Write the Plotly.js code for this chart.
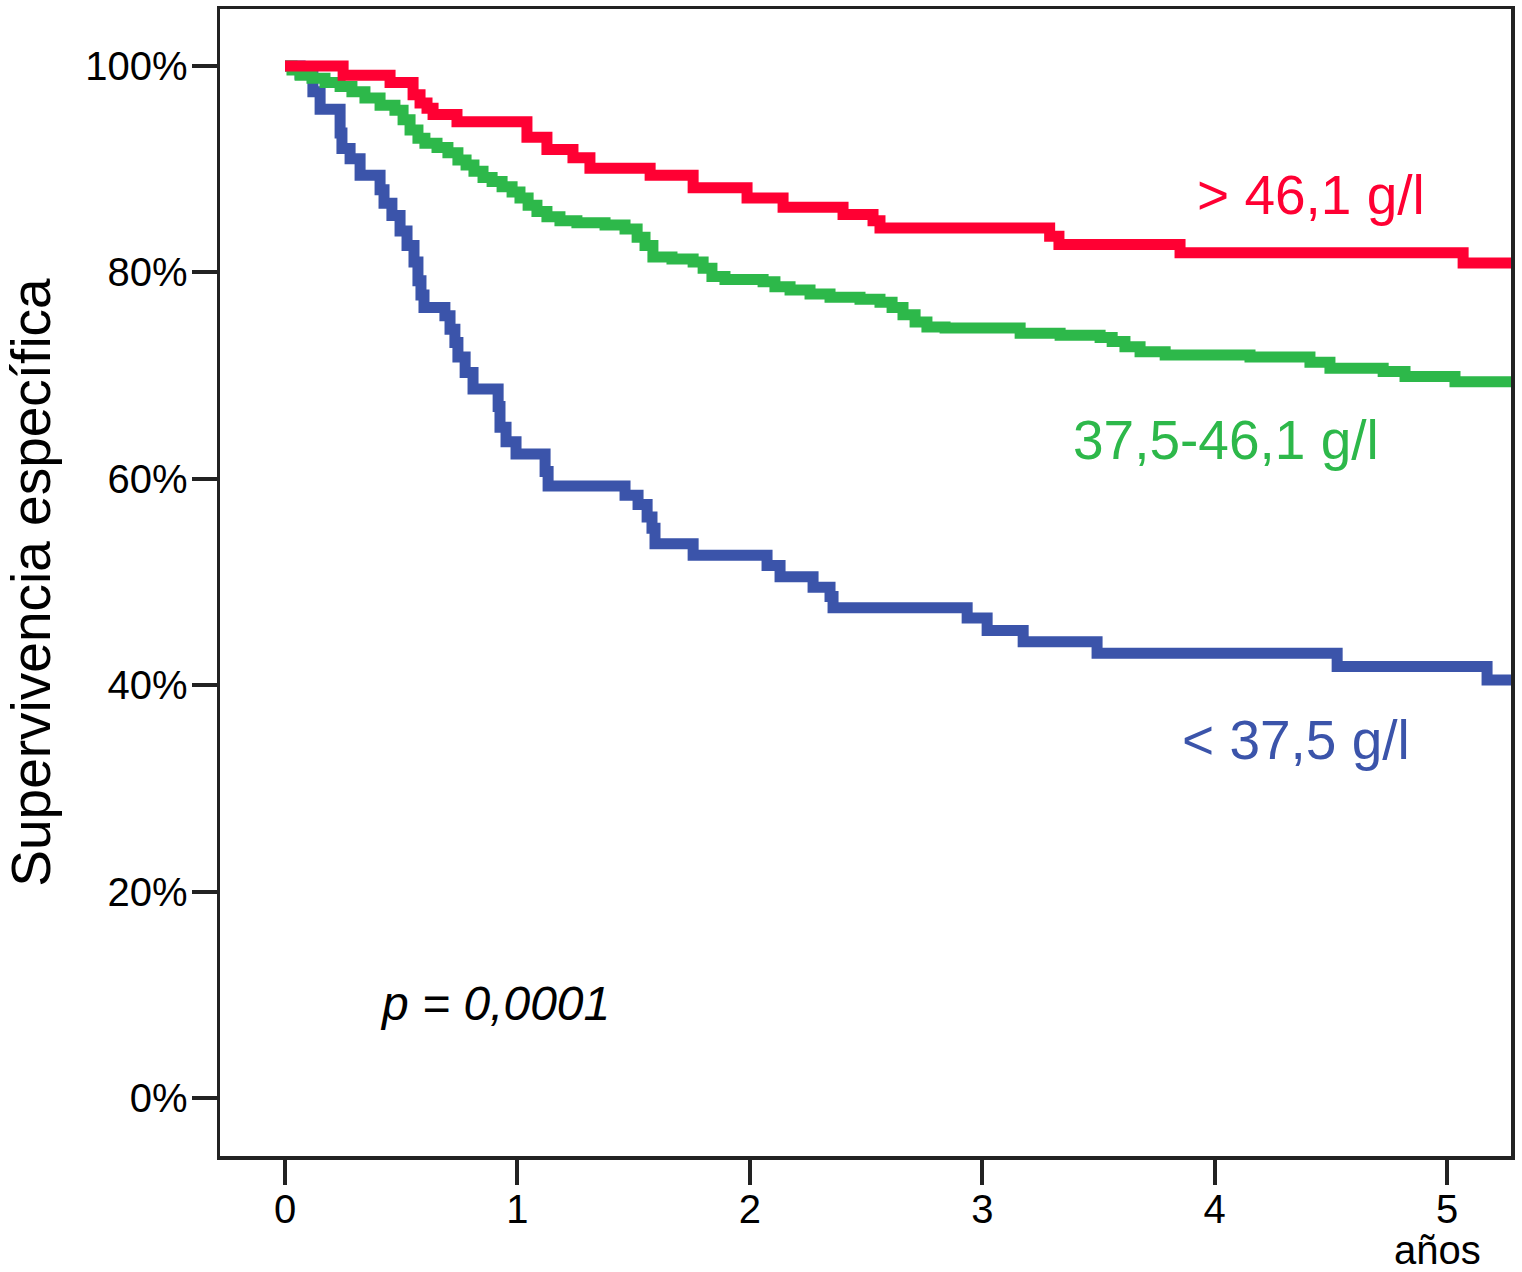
<!DOCTYPE html>
<html>
<head>
<meta charset="utf-8">
<script src="https://cdn.plot.ly/plotly-3.0.1.min.js"></script>
<style>html,body{margin:0;padding:0;background:#fff;}</style>
</head>
<body>
<div id="chart" style="width:1522px;height:1272px;"></div>
<script>
// Time in years, survival in %
const redT = [0, 0.25, 0.452, 0.551, 0.581, 0.611, 0.637, 0.740, 1.041, 1.127, 1.239, 1.312, 1.571, 1.756, 1.988, 2.143, 2.401, 2.530, 2.560, 3.29, 3.33, 3.851, 5.069, 5.28];
const redS = [100, 99.1, 98.4, 97.2, 96.4, 95.9, 95.3, 94.6, 93.1, 91.9, 91.1, 90.1, 89.4, 88.2, 87.2, 86.3, 85.6, 85.0, 84.3, 83.5, 82.7, 81.9, 80.9, 80.9];

const greenT = [0, 0.030, 0.065, 0.116, 0.172, 0.237, 0.288, 0.344, 0.409, 0.473, 0.508, 0.538, 0.572, 0.602, 0.654, 0.701, 0.744, 0.779, 0.813, 0.852, 0.891, 0.934, 0.977, 1.011, 1.046, 1.084, 1.127, 1.183, 1.256, 1.377, 1.463, 1.515, 1.549, 1.583, 1.665, 1.756, 1.799, 1.837, 1.893, 2.057, 2.108, 2.173, 2.259, 2.345, 2.474, 2.560, 2.612, 2.659, 2.711, 2.762, 2.840, 3.163, 3.335, 3.507, 3.559, 3.614, 3.679, 3.787, 4.152, 4.410, 4.496, 4.725, 4.819, 5.034, 5.28];
const greenS = [100, 99.6, 99.1, 98.8, 98.4, 98.0, 97.5, 96.9, 96.2, 95.7, 94.8, 93.8, 93.0, 92.5, 92.1, 91.6, 90.9, 90.4, 89.8, 89.2, 88.8, 88.3, 87.8, 87.2, 86.5, 85.9, 85.4, 85.0, 84.8, 84.6, 84.2, 83.4, 82.6, 81.5, 81.3, 81.0, 80.4, 79.6, 79.3, 79.1, 78.6, 78.3, 77.9, 77.6, 77.4, 77.1, 76.6, 75.9, 75.2, 74.7, 74.6, 74.1, 73.9, 73.7, 73.3, 72.8, 72.3, 72.0, 71.8, 71.3, 70.7, 70.4, 69.9, 69.4, 69.4];

const blueT = [0, 0.065, 0.120, 0.151, 0.237, 0.245, 0.280, 0.323, 0.409, 0.426, 0.460, 0.495, 0.525, 0.555, 0.572, 0.585, 0.598, 0.688, 0.710, 0.731, 0.744, 0.775, 0.809, 0.917, 0.925, 0.951, 0.994, 1.119, 1.132, 1.463, 1.519, 1.558, 1.579, 1.592, 1.756, 2.074, 2.130, 2.272, 2.345, 2.358, 2.935, 3.021, 3.176, 3.494, 4.527, 5.172, 5.28];
const blueS = [100, 99.2, 97.5, 95.8, 93.5, 92.0, 91.0, 89.4, 88.0, 86.7, 85.5, 84.0, 82.6, 81.0, 79.2, 77.8, 76.6, 75.8, 74.5, 73.2, 71.8, 70.3, 68.7, 67.0, 65.0, 63.6, 62.4, 60.7, 59.3, 58.4, 57.5, 56.3, 55.2, 53.7, 52.6, 51.6, 50.5, 49.5, 48.6, 47.5, 46.5, 45.3, 44.2, 43.1, 41.8, 40.5, 40.5];

const xTicks = [0, 1, 2, 3, 4, 5];
const yTicks = [0, 20, 40, 60, 80, 100];
const yTickText = ['0%', '20%', '40%', '60%', '80%', '100%'];

const groupNames = ['< 37,5 g/l', '37,5-46,1 g/l', '> 46,1 g/l'];
const pText = 'p = 0,0001';
const yTitle = 'Supervivencia específica';
const xUnit = 'años';

const cRed = '#ff0033', cGreen = '#2db84a', cBlue = '#3b54aa';
const FONT = 'Liberation Sans, Arial, Helvetica, sans-serif';

const traces = [
  {x: blueT, y: blueS, name: groupNames[0], mode: 'lines', line: {shape: 'hv', color: cBlue, width: 11}},
  {x: greenT, y: greenS, name: groupNames[1], mode: 'lines', line: {shape: 'hv', color: cGreen, width: 11}},
  {x: redT, y: redS, name: groupNames[2], mode: 'lines', line: {shape: 'hv', color: cRed, width: 11}}
];

const axisCommon = {
  showline: true, linecolor: '#222', linewidth: 3.5, mirror: true,
  ticks: 'outside', ticklen: 25, tickwidth: 4, tickcolor: '#222',
  showgrid: false, zeroline: false,
  tickfont: {family: FONT, size: 40, color: '#000'}
};

const layout = {
  width: 1522, height: 1272,
  margin: {l: 220, r: 11, t: 9, b: 116},
  paper_bgcolor: '#fff', plot_bgcolor: '#fff',
  showlegend: false,
  font: {family: FONT},
  xaxis: Object.assign({}, axisCommon, {
    range: [-0.2797, 5.275], tickvals: xTicks, ticktext: xTicks.map(String),
    ticklabelstandoff: -10
  }),
  yaxis: Object.assign({}, axisCommon, {
    range: [-5.62, 105.52], tickvals: yTicks, ticktext: yTickText,
    ticklabelstandoff: -4,
    title: {text: yTitle, font: {family: FONT, size: 55, color: '#000'}, standoff: 30}
  }),
  annotations: [
    {x: 4.415, y: 87.5, xref: 'x', yref: 'y', text: groupNames[2], showarrow: false,
     font: {family: FONT, size: 55, color: cRed}},
    {x: 4.05, y: 63.8, xref: 'x', yref: 'y', text: groupNames[1], showarrow: false,
     font: {family: FONT, size: 55, color: cGreen}},
    {x: 4.35, y: 34.7, xref: 'x', yref: 'y', text: groupNames[0], showarrow: false,
     font: {family: FONT, size: 55, color: cBlue}},
    {x: 0.904, y: 9.2, xref: 'x', yref: 'y', text: '<i>' + pText + '</i>', showarrow: false,
     font: {family: FONT, size: 48, color: '#000'}},
    {x: 4.96, y: -0.082, xref: 'x', yref: 'paper', text: xUnit, showarrow: false,
     yanchor: 'middle', font: {family: FONT, size: 40, color: '#000'}}
  ]
};

Plotly.newPlot('chart', traces, layout, {displayModeBar: false, staticPlot: true});
</script>
</body>
</html>
